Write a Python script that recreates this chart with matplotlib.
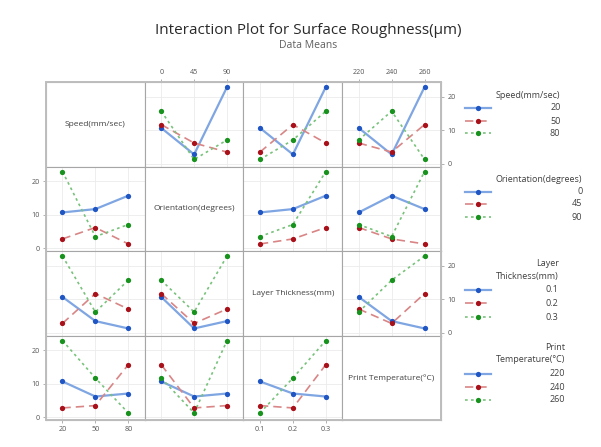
import numpy as np
import pandas as pd
import matplotlib
matplotlib.use("Agg")
import matplotlib.pyplot as plt
from matplotlib.lines import Line2D
from matplotlib.patches import Rectangle

plt.rcParams["font.family"] = ["Open Sans", "DejaVu Sans"]

# L9 runs: factor settings and measured surface roughness (µm)
speed = [20, 20, 20, 50, 50, 50, 80, 80, 80]
orientation = [0, 45, 90, 0, 45, 90, 0, 45, 90]
layer_thickness = [0.1, 0.2, 0.3, 0.2, 0.3, 0.1, 0.3, 0.1, 0.2]
print_temperature = [220, 240, 260, 260, 220, 240, 240, 260, 220]
roughness = [10.7, 2.8, 22.9, 11.7, 6.2, 3.5, 15.7, 1.3, 7.1]

factor_names = ["Speed(mm/sec)", "Orientation(degrees)",
                "Layer Thickness(mm)", "Print Temperature(°C)"]
legend_titles = [["Speed(mm/sec)"], ["Orientation(degrees)"],
                 ["Layer", "Thickness(mm)"], ["Print", "Temperature(°C)"]]
level_labels = [["20", "50", "80"], ["0", "45", "90"],
                ["0.1", "0.2", "0.3"], ["220", "240", "260"]]
y_ticks = [0, 10, 20]

df = pd.DataFrame({
    "f0": speed, "f1": orientation, "f2": layer_thickness, "f3": print_temperature,
    "y": roughness,
})
cols = ["f0", "f1", "f2", "f3"]

marker_colors = ["#1f56c4", "#a8101a", "#17921c"]
line_colors = ["#7fa6e2", "#d98585", "#78c27b"]
line_styles = ["-", (0, (5, 3)), (0, (1.6, 2.0))]
line_widths = [1.6, 1.2, 1.2]

W, H = 601, 447
fig = plt.figure(figsize=(W / 100, H / 100), dpi=100)
fig.patch.set_facecolor("white")

left, right, top, bottom = 46, 441, 82, 420
gs = fig.add_gridspec(4, 4, left=left / W, right=right / W,
                      top=1 - top / H, bottom=1 - bottom / H,
                      wspace=0, hspace=0)

spine_color = "#a6a6a6"
tick_color = "#555555"

for r in range(4):
    for c in range(4):
        ax = fig.add_subplot(gs[r, c])
        ax.set_xlim(-0.5, 2.5)
        ax.set_ylim(-0.8, 24.4)
        ax.set_facecolor("white")
        for s in ax.spines.values():
            s.set_color(spine_color)
            s.set_linewidth(0.8)
        ax.set_xticks([0, 1, 2])
        ax.set_xticklabels(level_labels[c])
        ax.set_yticks(y_ticks)
        ax.set_yticklabels([str(v) for v in y_ticks])

        if r == c:
            ax.text(0.5, 0.5, factor_names[r], transform=ax.transAxes,
                    ha="center", va="center", fontsize=6.0, color="#404040")
        else:
            ax.grid(True, color="#ebebeb", linewidth=0.6)
            ax.set_axisbelow(True)
            means = df.groupby([cols[r], cols[c]])["y"].mean().unstack()
            for k, lvl in enumerate(sorted(df[cols[r]].unique())):
                vals = means.loc[lvl].values
                ax.plot(range(len(vals)), vals, color=line_colors[k],
                        linestyle=line_styles[k], linewidth=line_widths[k],
                        zorder=2)
                ax.plot(range(len(vals)), vals, linestyle="none", marker="o",
                        markersize=3.8, color=marker_colors[k],
                        markeredgewidth=0, zorder=3)

        show_top = (r == 0 and c in (1, 3))
        show_bottom = (r == 3 and c in (0, 2))
        show_left = (c == 0 and r in (1, 3))
        show_right = (c == 3 and r in (0, 2))
        ax.tick_params(axis="x", top=show_top, bottom=show_bottom,
                       labeltop=show_top, labelbottom=show_bottom,
                       length=2.5, width=0.6, color=spine_color,
                       labelsize=5.2, labelcolor=tick_color, pad=2)
        ax.tick_params(axis="y", left=show_left, right=show_right,
                       labelleft=show_left, labelright=show_right,
                       length=2.5, width=0.6, color=spine_color,
                       labelsize=5.2, labelcolor=tick_color, pad=2)

# overlay in pixel coordinates for the frame, titles and legends
ov = fig.add_axes([0, 0, 1, 1], zorder=10)
ov.set_xlim(0, W)
ov.set_ylim(H, 0)
ov.axis("off")
ov.patch.set_alpha(0)

ov.add_patch(Rectangle((left, top), right - left, bottom - top, fill=False,
                       edgecolor="#bdbdbd", linewidth=1.4))

ov.text(308, 30, "Interaction Plot for Surface Roughness(µm)", ha="center",
        va="center", fontsize=11, color="#2a2a2a")
ov.text(308, 46, "Data Means", ha="center", va="center", fontsize=7.5,
        color="#606060")

legend_title_y = [[95], [179], [263, 276], [347, 360]]
legend_level_y = [[108, 121, 133], [192, 204, 217],
                  [290, 303, 317], [374, 387, 400]]
title_left = 496
legend_fs = 6.5

fig.canvas.draw()
renderer = fig.canvas.get_renderer()
inv = ov.transData.inverted()
for i in range(4):
    widest = max(legend_titles[i], key=len)
    probe = ov.text(title_left, legend_title_y[i][-1], widest, ha="left",
                    va="center", fontsize=legend_fs, color="#404040")
    bb = probe.get_window_extent(renderer)
    x_right = inv.transform((bb.x1, bb.y0))[0]
    probe.remove()
    for t, ty in zip(legend_titles[i], legend_title_y[i]):
        ov.text(x_right, ty, t, ha="right", va="center", fontsize=legend_fs,
                color="#404040")
    for k, (lab, ly) in enumerate(zip(level_labels[i], legend_level_y[i])):
        ov.add_line(Line2D([465, 491], [ly, ly], color=line_colors[k],
                           linestyle=line_styles[k], linewidth=line_widths[k]))
        ov.plot([478], [ly], marker="o", markersize=3.8,
                color=marker_colors[k], markeredgewidth=0)
        ov.text(x_right, ly, lab, ha="right", va="center", fontsize=legend_fs,
                color="#404040")

fig.savefig("out.png", dpi=100, facecolor="white")
